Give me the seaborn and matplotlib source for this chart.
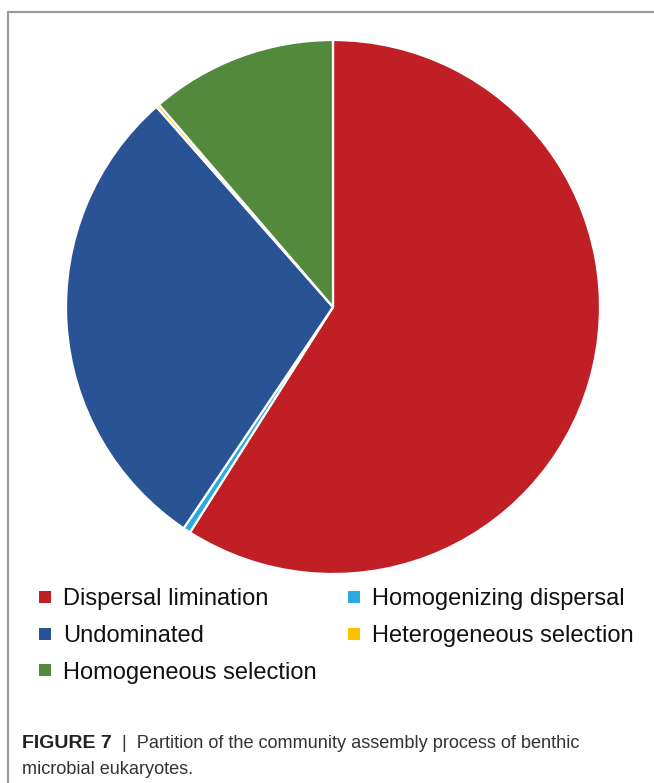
import matplotlib
matplotlib.use("Agg")
import matplotlib.pyplot as plt
from matplotlib.lines import Line2D
import seaborn as sns

sns.set_theme(style="white")
plt.rcParams["font.family"] = ["Liberation Sans", "DejaVu Sans"]

# Share of community assembly processes (%)
processes = ["Dispersal limination", "Homogenizing dispersal", "Undominated",
             "Heterogeneous selection", "Homogeneous selection"]
shares = [59.0, 0.45, 29.05, 0.2, 11.3]
colors = ["#C01F26", "#29ABE2", "#2A5396", "#FFC000", "#53893C"]
legend_order = ["Dispersal limination", "Undominated", "Homogeneous selection",
                "Homogenizing dispersal", "Heterogeneous selection"]

W, H = 654, 783
fig = plt.figure(figsize=(W / 100, H / 100), dpi=100)
fig.patch.set_facecolor("white")

cx, cy, r = 333, 307, 267
ax = fig.add_axes([(cx - r) / W, 1 - (cy + r) / H, 2 * r / W, 2 * r / H])
ax.pie(shares, colors=colors, startangle=90, counterclock=False, radius=1,
       wedgeprops=dict(edgecolor="white", linewidth=1.6))
ax.set_xlim(-1, 1)
ax.set_ylim(-1, 1)
ax.set_aspect("equal")
ax.axis("off")

# Legend with small square markers, two columns
cmap = dict(zip(processes, colors))
handles = [Line2D([], [], linestyle="none", marker="s", markersize=8.2,
                  markerfacecolor=cmap[p], markeredgewidth=0) for p in legend_order]
fig.legend(handles, legend_order, loc="upper left",
           bbox_to_anchor=(35.5 / W, 1 - 588 / H), bbox_transform=fig.transFigure,
           ncol=2, frameon=False, fontsize=17, handlelength=0.8,
           handletextpad=0.35, columnspacing=1.2, labelspacing=0.63,
           borderpad=0, borderaxespad=0, labelcolor="#111111")

# Frame lines on the left and top
fig.add_artist(Line2D([8 / W, 8 / W], [0, 1 - 12 / H], transform=fig.transFigure,
                      color="#9a9a9a", linewidth=1.6))
fig.add_artist(Line2D([8 / W, 1], [1 - 12 / H, 1 - 12 / H], transform=fig.transFigure,
                      color="#9a9a9a", linewidth=1.6))

# Caption
cap_size = 13.1
t1 = fig.text(22 / W, 1 - 744 / H, "FIGURE 7", fontsize=14, fontweight="bold",
              color="#222222", va="center")
fig.canvas.draw()
bb = t1.get_window_extent(fig.canvas.get_renderer())
fig.text(bb.x1 / W, 1 - 744 / H,
         "  |  Partition of the community assembly process of benthic",
         fontsize=cap_size, color="#333333", va="center")
fig.text(22 / W, 1 - 769 / H, "microbial eukaryotes.", fontsize=cap_size,
         color="#333333", va="center")

fig.savefig("out.png", dpi=100, facecolor="white")
